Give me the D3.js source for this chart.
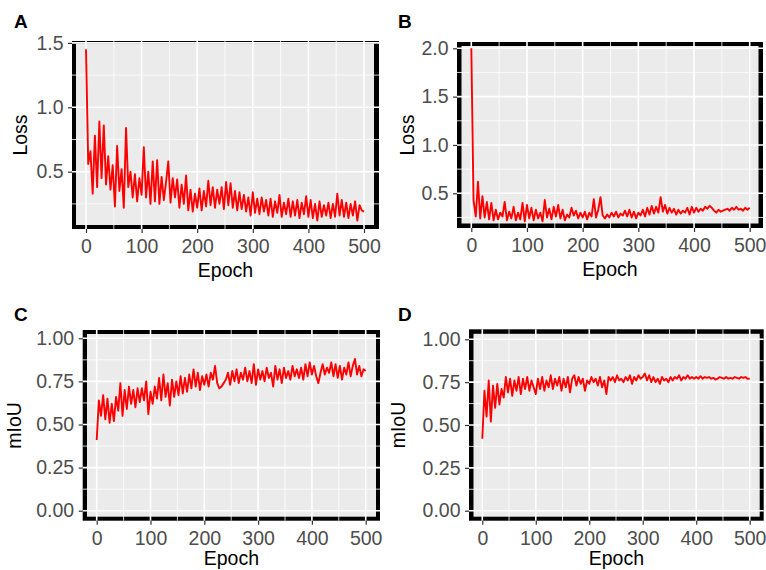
<!DOCTYPE html>
<html>
<head>
<meta charset="utf-8">
<script src="https://cdn.jsdelivr.net/npm/d3@7"></script>
<style>
  body { margin: 0; background: #fff; }
  text { font-family: "Liberation Sans", Arial, sans-serif; }
</style>
</head>
<body>
<div id="chart"></div>
<script>
// epochs sampled every 4
var epochs = d3.range(0, 501, 4);
var epochTicks = [0, 100, 200, 300, 400, 500];
var lossTicksA = [0.5, 1.0, 1.5];
var lossTicksB = [0.5, 1.0, 1.5, 2.0];
var miouTicks = [0, 0.25, 0.5, 0.75, 1.0];

var lossA = [
  1.45, 0.56, 0.66, 0.33, 0.78, 0.38, 0.89, 0.45, 0.86, 0.40,
  0.62, 0.36, 0.55, 0.23, 0.70, 0.35, 0.52, 0.22, 0.84, 0.38,
  0.50, 0.30, 0.48, 0.27, 0.45, 0.32, 0.69, 0.30, 0.50, 0.25,
  0.58, 0.27, 0.59, 0.25, 0.46, 0.28, 0.42, 0.58, 0.26, 0.45,
  0.30, 0.44, 0.22, 0.40, 0.25, 0.47, 0.20, 0.36, 0.19, 0.33,
  0.22, 0.37, 0.20, 0.35, 0.23, 0.43, 0.24, 0.38, 0.22, 0.36,
  0.25, 0.38, 0.21, 0.42, 0.24, 0.41, 0.22, 0.35, 0.20, 0.34,
  0.21, 0.32, 0.19, 0.30, 0.16, 0.34, 0.18, 0.29, 0.17, 0.30,
  0.19, 0.28, 0.16, 0.29, 0.15, 0.27, 0.18, 0.32, 0.15, 0.26,
  0.17, 0.29, 0.15, 0.27, 0.16, 0.28, 0.14, 0.26, 0.17, 0.31,
  0.15, 0.28, 0.14, 0.25, 0.12, 0.27, 0.15, 0.24, 0.16, 0.26,
  0.14, 0.25, 0.15, 0.33, 0.16, 0.28, 0.15, 0.26, 0.14, 0.25,
  0.16, 0.27, 0.12, 0.24, 0.20, 0.19
];

var lossB = [
  2.00, 0.43, 0.26, 0.62, 0.24, 0.47, 0.25, 0.41, 0.23, 0.40,
  0.22, 0.33, 0.23, 0.30, 0.26, 0.41, 0.22, 0.31, 0.24, 0.36,
  0.22, 0.30, 0.23, 0.40, 0.21, 0.38, 0.24, 0.35, 0.22, 0.33,
  0.24, 0.30, 0.21, 0.43, 0.25, 0.34, 0.23, 0.36, 0.26, 0.38,
  0.24, 0.33, 0.22, 0.28, 0.25, 0.35, 0.27, 0.32, 0.24, 0.30,
  0.25, 0.31, 0.23, 0.30, 0.26, 0.44, 0.25, 0.33, 0.46, 0.27,
  0.24, 0.28, 0.25, 0.30, 0.26, 0.31, 0.25, 0.29, 0.27, 0.32,
  0.26, 0.33, 0.25, 0.31, 0.24, 0.30, 0.27, 0.33, 0.26, 0.35,
  0.28, 0.37, 0.29, 0.36, 0.30, 0.46, 0.31, 0.38, 0.29, 0.35,
  0.30, 0.34, 0.28, 0.33, 0.29, 0.32, 0.30, 0.35, 0.28, 0.36,
  0.30, 0.35, 0.31, 0.34, 0.32, 0.36, 0.34, 0.37, 0.35, 0.32,
  0.30, 0.33, 0.31, 0.32, 0.33, 0.34, 0.32, 0.35, 0.33, 0.36,
  0.33, 0.34, 0.32, 0.35, 0.33, 0.35
];

var miouC = [
  0.41, 0.64, 0.55, 0.67, 0.53, 0.65, 0.51, 0.62, 0.52, 0.66,
  0.58, 0.74, 0.55, 0.70, 0.59, 0.72, 0.62, 0.70, 0.60, 0.71,
  0.63, 0.71, 0.64, 0.75, 0.56, 0.69, 0.62, 0.72, 0.65, 0.77,
  0.64, 0.79, 0.66, 0.74, 0.61, 0.76, 0.66, 0.75, 0.67, 0.78,
  0.68, 0.77, 0.69, 0.79, 0.71, 0.82, 0.72, 0.80, 0.70, 0.78,
  0.73, 0.79, 0.72, 0.80, 0.76, 0.84, 0.74, 0.71, 0.72, 0.74,
  0.76, 0.80, 0.73, 0.81, 0.75, 0.82, 0.74, 0.80, 0.76, 0.83,
  0.75, 0.81, 0.74, 0.85, 0.73, 0.82, 0.76, 0.81, 0.75, 0.83,
  0.77, 0.80, 0.72, 0.84, 0.76, 0.82, 0.74, 0.83, 0.77, 0.81,
  0.76, 0.84, 0.78, 0.82, 0.77, 0.83, 0.76, 0.85, 0.78, 0.86,
  0.79, 0.84, 0.78, 0.74, 0.80, 0.85, 0.79, 0.83, 0.80, 0.86,
  0.78, 0.85, 0.77, 0.84, 0.76, 0.83, 0.79, 0.86, 0.78, 0.84,
  0.88, 0.79, 0.84, 0.78, 0.82, 0.81
];

var miouD = [
  0.42, 0.70, 0.55, 0.76, 0.52, 0.73, 0.60, 0.74, 0.62, 0.71,
  0.66, 0.78, 0.69, 0.77, 0.67, 0.76, 0.70, 0.78, 0.68, 0.77,
  0.71, 0.78, 0.70, 0.76, 0.72, 0.68, 0.77, 0.71, 0.78, 0.70,
  0.76, 0.72, 0.79, 0.71, 0.77, 0.73, 0.78, 0.70, 0.77, 0.72,
  0.78, 0.69, 0.77, 0.79, 0.73, 0.78, 0.74, 0.77, 0.70, 0.76,
  0.74, 0.78, 0.75, 0.77, 0.73, 0.78, 0.72, 0.76, 0.68, 0.78,
  0.76, 0.78, 0.75, 0.79, 0.76, 0.77, 0.75, 0.78, 0.76, 0.79,
  0.74, 0.78, 0.76, 0.79, 0.77, 0.78, 0.80, 0.76, 0.79, 0.75,
  0.78, 0.75, 0.77, 0.74, 0.78, 0.76, 0.77, 0.75, 0.78, 0.76,
  0.78, 0.77, 0.79, 0.76, 0.78, 0.77, 0.79, 0.77, 0.78, 0.77,
  0.78, 0.77, 0.785, 0.77, 0.78, 0.775, 0.78, 0.77, 0.775, 0.765,
  0.77, 0.78, 0.775, 0.77, 0.78, 0.77, 0.775, 0.77, 0.78, 0.775,
  0.77, 0.78, 0.775, 0.78, 0.77, 0.77
];

var svg = d3.select("#chart").append("svg")
    .attr("width", 766)
    .attr("height", 570);

// frame box, border widths, pixel anchors for the two scales
var panels = [
  { label: "A", title: "Loss", values: lossA, yTicks: lossTicksA, fmt: ".1f",
    box: [72, 41, 379, 229], bw: [4, 2.5, 5, 4],
    xr: [86, 364], yd: [0.5, 1.0], yr: [171.7, 107.3], titleX: 27, epochDy: 48 },
  { label: "B", title: "Loss", values: lossB, yTicks: lossTicksB, fmt: ".1f",
    box: [457, 42, 763, 228], bw: [4.5, 4, 4.5, 4.5],
    xr: [471.3, 749.7], yd: [0.5, 2.0], yr: [193.3, 48.3], titleX: 414, epochDy: 48 },
  { label: "C", title: "mIoU", values: miouC, yTicks: miouTicks, fmt: ".2f",
    box: [82.7, 330, 380, 520.7], bw: [4.3, 4, 4, 4],
    xr: [96.7, 365.7], yd: [0, 1], yr: [510.7, 338.3], titleX: 21, epochDy: 44.5 },
  { label: "D", title: "mIoU", values: miouD, yTicks: miouTicks, fmt: ".2f",
    box: [469, 329.3, 763.7, 520.7], bw: [4.5, 4.5, 4, 4],
    xr: [482.3, 749.7], yd: [0, 1], yr: [510.7, 339.3], titleX: 405, epochDy: 44.5 }
];

function minorOf(t) {
  var step = t[1] - t[0], out = [t[0] - step / 2];
  for (var i = 0; i < t.length; i++) out.push(t[i] + step / 2);
  return out;
}

panels.forEach(function (p) {
  var x = d3.scaleLinear().domain([0, 500]).range(p.xr);
  var y = d3.scaleLinear().domain(p.yd).range(p.yr);
  var L = p.box[0], T = p.box[1], R = p.box[2], B = p.box[3];
  var iL = L + p.bw[0], iT = T + p.bw[1], iR = R - p.bw[2], iB = B - p.bw[3];
  var g = svg.append("g");

  // thick black frame, grey panel
  g.append("rect").attr("x", L).attr("y", T)
      .attr("width", R - L).attr("height", B - T)
      .style("fill", "black");
  g.append("rect").attr("x", iL).attr("y", iT)
      .attr("width", iR - iL).attr("height", iB - iT)
      .style("fill", "#EBEBEB");

  // grid lines, they run through the frame
  var xMinor = minorOf(epochTicks).filter(function (v) { return x(v) > iL && x(v) < iR; });
  var yMinor = minorOf(p.yTicks).filter(function (v) { return y(v) < iB && y(v) > iT; });

  g.selectAll(".vmin").data(xMinor).enter().append("line")
      .attr("x1", x).attr("x2", x).attr("y1", T).attr("y2", B)
      .style("stroke", "white").style("stroke-width", 0.8);
  g.selectAll(".hmin").data(yMinor).enter().append("line")
      .attr("x1", L).attr("x2", R).attr("y1", y).attr("y2", y)
      .style("stroke", "white").style("stroke-width", 0.8);
  g.selectAll(".vmaj").data(epochTicks).enter().append("line")
      .attr("x1", x).attr("x2", x).attr("y1", T).attr("y2", B)
      .style("stroke", "white").style("stroke-width", 1.6);
  g.selectAll(".hmaj").data(p.yTicks.filter(function (v) { return y(v) >= T; })).enter().append("line")
      .attr("x1", L).attr("x2", R).attr("y1", y).attr("y2", y)
      .style("stroke", "white").style("stroke-width", 1.6);

  // the series
  var line = d3.line()
      .x(function (d, i) { return x(epochs[i]); })
      .y(function (d) { return y(d); });
  g.append("path")
      .datum(p.values)
      .attr("d", line)
      .style("fill", "none")
      .style("stroke", "#FF0000")
      .style("stroke-width", 1.9)
      .style("stroke-linejoin", "round");

  // axes
  var ax = g.append("g")
      .attr("transform", "translate(0," + B + ")")
      .call(d3.axisBottom(x).tickValues(epochTicks).tickSize(4).tickPadding(6));
  var ay = g.append("g")
      .attr("transform", "translate(" + L + ",0)")
      .call(d3.axisLeft(y).tickValues(p.yTicks).tickFormat(d3.format(p.fmt))
            .tickSize(4).tickPadding(4.5));
  [ax, ay].forEach(function (a) {
    a.select(".domain").remove();
    a.selectAll("line").style("stroke", "#333333").style("stroke-width", 1.2);
    a.selectAll("text").style("font-size", "19.5px").style("fill", "#4D4D4D")
        .style("font-family", "'Liberation Sans', Arial, sans-serif");
  });

  // titles
  g.append("text")
      .attr("x", (L + R) / 2).attr("y", B + p.epochDy)
      .attr("text-anchor", "middle")
      .style("font-size", "19.5px").style("fill", "black")
      .text("Epoch");
  g.append("text")
      .attr("transform", "translate(" + p.titleX + "," + (T + B) / 2 + ") rotate(-90)")
      .attr("text-anchor", "middle")
      .style("font-size", "19.5px").style("fill", "black")
      .text(p.title);

  g.append("text")
      .attr("x", p.label === "A" || p.label === "C" ? 14 : 398)
      .attr("y", p.label === "A" || p.label === "B" ? 28 : 320.5)
      .style("font-size", "19px").style("font-weight", "bold").style("fill", "black")
      .text(p.label);
});
</script>
</body>
</html>
